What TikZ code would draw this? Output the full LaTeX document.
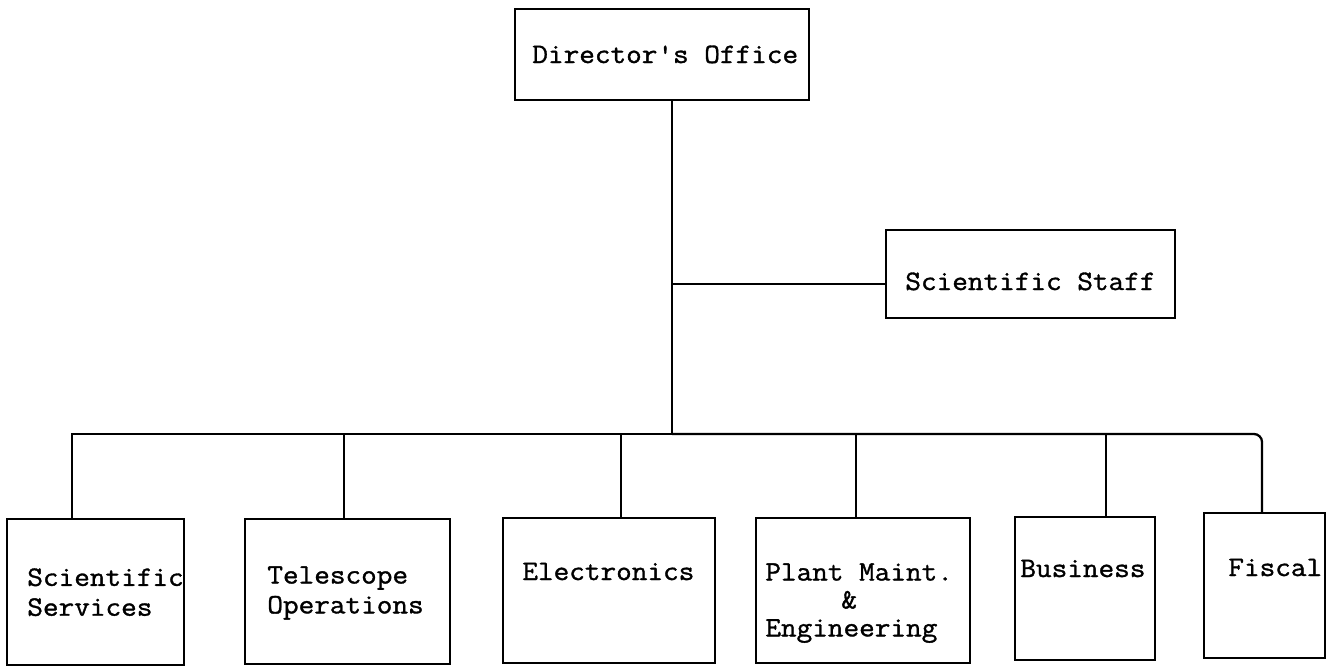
\documentclass[tikz,border=0pt]{standalone}
\usepackage{fontspec}
\setmonofont{Latin Modern Mono}[FakeStretch=1.08, FakeBold=1.2]
\usepackage{tikz}
\usetikzlibrary{positioning, calc}

\begin{document}
\begin{tikzpicture}[x=0.02cm, y=-0.02cm,
  box/.style 2 args={draw, line width=1.3pt, inner sep=0pt, minimum width=#1*0.02cm, minimum height=#2*0.02cm},
  lab/.style={font=\ttfamily\fontsize{16}{16.5}\selectfont, inner sep=0pt, align=left},
  wire/.style={line width=1.3pt}]
\useasboundingbox (0,0) rectangle (1327,666);
% boxes
\node[box={294}{91}] (dir) at (662,54.5) {};
\node[box={289}{88}] (staff) at (1030.5,274) {};
\node[box={177}{146}] (sserv) at (95.5,592) {};
\node[box={205}{145}] (tele) at (347.5,591.5) {};
\node[box={212}{145}] (elec) at (609,590.5) {};
\node[box={214}{145}] (plant) at (863,590.5) {};
\node[box={140}{143}] (busi) at (1085,588.5) {};
\node[box={121}{145}] (fisc) at (1264.5,585.5) {};
% texts
\node[lab, anchor=base west] (dir-t) at (532,63) {Director's Office};
\node[lab, anchor=base west] (staff-t) at (905,290) {Scientific Staff};
\node[lab, anchor=north west, font=\ttfamily\fontsize{16}{17}\selectfont] (sserv-t) at (27,568) {Scientific\\Services};
\node[lab, anchor=north west, font=\ttfamily\fontsize{16}{17}\selectfont] (tele-t) at (267,566) {Telescope\\Operations};
\node[lab, anchor=base west] (elec-t) at (522,580) {Electronics};
\node[lab, anchor=north west, font=\ttfamily\fontsize{16}{15.9}\selectfont] (plant-t) at (765,563) {Plant Maint.\\\hspace*{1.52cm}\&\\Engineering};
\node[lab, anchor=base west] (busi-t) at (1020,577) {Business};
\node[lab, anchor=base west] (fisc-t) at (1228,576) {Fiscal};
% bus and drops
\coordinate (hub) at (672,434); \coordinate (br) at (672,284);
\coordinate (d1) at (72,434); \coordinate (d2) at (344,434); \coordinate (d3) at (621,434);
\coordinate (d4) at (856,434); \coordinate (d5) at (1106,434); \coordinate (d6) at (1262,434);
\draw[wire] (dir.south -| hub) -- (hub); \draw[wire] (br) -- (br -| staff.west);
\draw[wire] (d1 |- sserv.north) -- (d1) -- (hub); \draw[wire, rounded corners=0.16cm] (hub) -- (d6) -- (d6 |- fisc.north);
\draw[wire] (d2) -- (d2 |- tele.north); \draw[wire] (d3) -- (d3 |- elec.north);
\draw[wire] (d4) -- (d4 |- plant.north); \draw[wire] (d5) -- (d5 |- busi.north);
\end{tikzpicture}
\end{document}
